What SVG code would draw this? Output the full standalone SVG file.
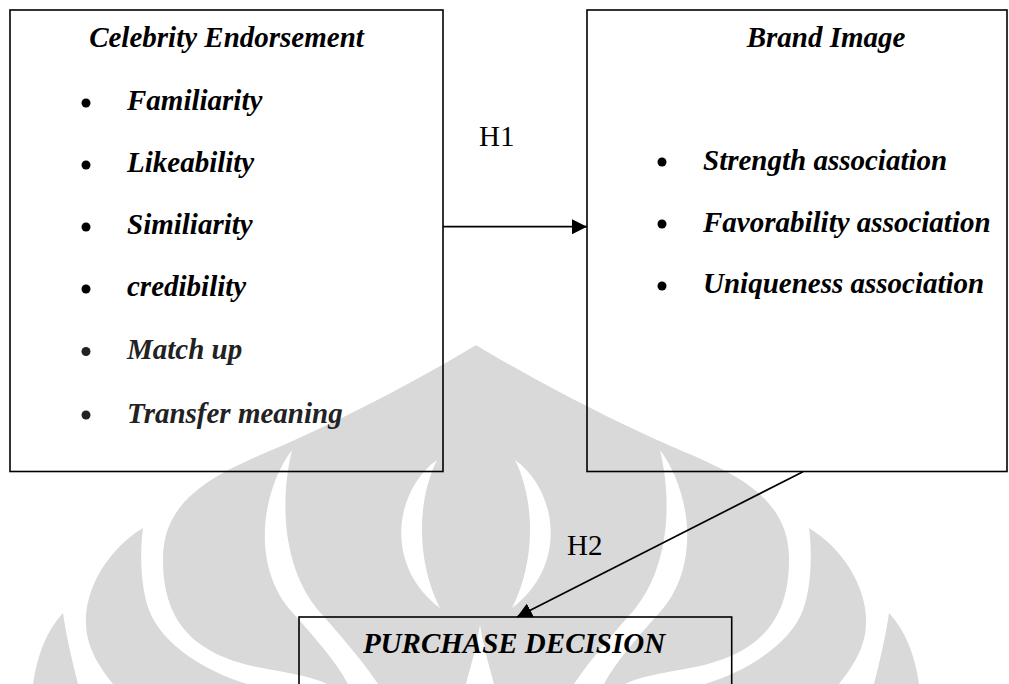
<svg xmlns="http://www.w3.org/2000/svg" width="1009" height="684" viewBox="0 0 1009 684">
  <style>
    .wm { fill: #d9d9d9; }
    .wmw { fill: #ffffff; }
    .box { fill: none; stroke: #000; stroke-width: 1.6; }
    .title { font-family: "Liberation Serif", "Times New Roman", serif; font-size: 29px; font-weight: bold; font-style: italic; fill: #000; }
    .item { font-family: "Liberation Serif", "Times New Roman", serif; font-size: 29px; font-weight: bold; font-style: italic; fill: #000; }
    .item2 { fill: #222; }
    .lbl { font-family: "Liberation Serif", "Times New Roman", serif; font-size: 29px; fill: #000; }
    .conn { stroke: #000; stroke-width: 1.7; fill: none; }
  </style>
  <defs>
    <marker id="arrow" markerUnits="userSpaceOnUse" markerWidth="16" markerHeight="16" refX="15" refY="7.5" orient="auto">
      <path d="M0,0 L15,7.5 L0,15 Z" fill="#000"/>
    </marker>
  </defs>
  <rect x="0" y="0" width="1009" height="684" fill="#ffffff"/>
  <g id="watermark">
    <path class="wm" d="M 476,345 C 520,372 600,415 664,443 C 720,468 790,490 789,560 C 789,620 760,655 690,668 C 670,672 640,676 625,684 L 327,684 C 312,676 282,672 262,668 C 192,655 163,620 163,560 C 162,490 232,468 288,443 C 352,415 432,372 476,345 Z"/>
    <path class="wm" d="M 809,528 C 845,550 868,590 866,625 C 865,650 850,670 839,684 L 705,684 C 745,672 790,645 803,610 C 812,585 812,550 809,528 Z"/>
    <path class="wm" d="M 143,528 C 107,550 84,590 86,625 C 87,650 102,670 113,684 L 247,684 C 207,672 162,645 149,610 C 140,585 140,550 143,528 Z"/>
    <path class="wm" d="M 889,613 C 905,630 915,655 919,684 L 874,684 C 880,660 886,635 889,613 Z"/>
    <path class="wm" d="M 63,613 C 47,630 37,655 33,684 L 78,684 C 72,660 66,635 63,613 Z"/>
    <path class="wmw" d="M 292,450 C 262,490 250,565 292,612 C 315,638 335,660 348,684 L 378,684 C 362,660 340,635 318,610 C 282,566 280,500 292,450 Z"/>
    <path class="wmw" d="M 660,450 C 690,490 702,565 660,612 C 637,638 617,660 604,684 L 574,684 C 590,660 612,635 634,610 C 670,566 672,500 660,450 Z"/>
    <path class="wmw" d="M 437,460 C 395,490 383,565 440,608 C 418,565 415,505 437,460 Z"/>
    <path class="wmw" d="M 515,460 C 557,490 569,565 512,608 C 534,565 537,505 515,460 Z"/>
    <path class="wmw" d="M 480,625 C 484,650 490,668 494,684 L 466,684 C 470,668 476,650 480,625 Z"/>
  </g>
  <g id="connectors">
    <line class="conn" x1="443" y1="226.7" x2="587" y2="226.7" marker-end="url(#arrow)"/>
    <line class="conn" x1="803" y1="471.7" x2="517" y2="617" marker-end="url(#arrow)"/>
    <text class="lbl" x="479" y="146">H1</text>
    <text class="lbl" x="567" y="555">H2</text>
  </g>
  <g id="celebrity-endorsement">
    <rect class="box" x="10" y="10" width="433" height="461.5"/>
    <text class="title" x="226.5" y="47" text-anchor="middle">Celebrity Endorsement</text>
    <circle cx="86" cy="103" r="4.5"/>
    <text class="item" x="127" y="110">Familiarity</text>
    <circle cx="86" cy="165" r="4.5"/>
    <text class="item" x="127" y="172">Likeability</text>
    <circle cx="86" cy="227" r="4.5"/>
    <text class="item" x="127" y="234">Similiarity</text>
    <circle cx="86" cy="289" r="4.5"/>
    <text class="item" x="127" y="296">credibility</text>
    <circle cx="86" cy="351.5" r="4.5" fill="#222"/>
    <text class="item item2" x="127" y="359">Match up</text>
    <circle cx="86" cy="415" r="4.5" fill="#222"/>
    <text class="item item2" x="127" y="423">Transfer meaning</text>
  </g>
  <g id="brand-image">
    <rect class="box" x="587" y="10" width="420" height="461.5"/>
    <text class="title" x="826" y="47" text-anchor="middle">Brand Image</text>
    <circle cx="662" cy="162" r="4.5"/>
    <text class="item" x="703" y="170">Strength association</text>
    <circle cx="662" cy="224" r="4.5"/>
    <text class="item" x="703" y="232">Favorability association</text>
    <circle cx="662" cy="286" r="4.5"/>
    <text class="item" x="703" y="293">Uniqueness association</text>
  </g>
  <g id="purchase-decision">
    <rect class="box" x="299" y="617" width="432.7" height="100"/>
    <text class="title" x="514" y="653" text-anchor="middle">PURCHASE DECISION</text>
  </g>
</svg>
